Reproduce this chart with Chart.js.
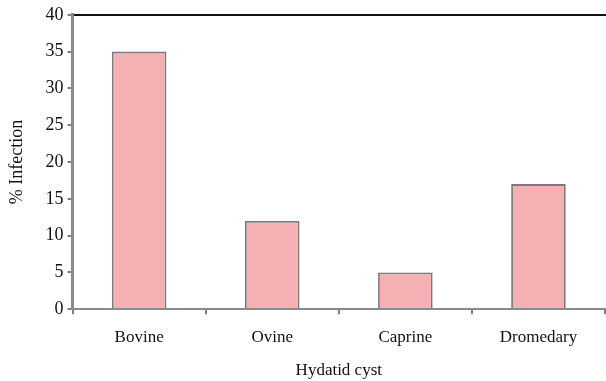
<!DOCTYPE html>
<html>
<head>
<meta charset="utf-8">
<script src="https://cdn.jsdelivr.net/npm/chart.js@4/dist/chart.umd.min.js"></script>
<style>
  html, body { margin: 0; padding: 0; background: #fff; }
  #wrap { width: 606px; height: 381px; position: relative; }
</style>
</head>
<body>
<div id="wrap"><canvas id="c"></canvas></div>
<script>
'use strict';

// ── DATA ──────────────────────────────────────────────
const categories = ['Bovine', 'Ovine', 'Caprine', 'Dromedary'];
const infection  = [35, 12, 5, 17];   // % Infection
const Y_MIN = 0, Y_MAX = 40, Y_STEP = 5;

const SERIF = '"Liberation Serif", "DejaVu Serif", serif';

new Chart(document.getElementById('c'), {
  type: 'bar',
  data: {
    labels: categories,
    datasets: [{
      label: 'Hydatid cyst',
      data: infection,
      backgroundColor: '#f4b0b3',
      borderColor: '#7a7a7a',
      borderWidth: 1.8,
      categoryPercentage: 1.0,
      barPercentage: 0.41,
    }],
  },
  options: {
    responsive: true,
    maintainAspectRatio: false,
    animation: false,
    layout: { padding: { top: 2, right: 1, left: 2, bottom: 0 } },
    plugins: { legend: { display: false }, tooltip: { enabled: false } },
    scales: {
      x: {
        grid: { offset: true, drawOnChartArea: false, tickLength: 5, color: '#808080', lineWidth: 2 },
        border: { color: '#8a8a8a', width: 2 },
        ticks: { color: '#111', font: { family: SERIF, size: 17 }, padding: 13 },
        title: { display: true, text: 'Hydatid cyst', color: '#111', font: { family: SERIF, size: 17 }, padding: { top: 0, bottom: 0 } },
      },
      xTop: {
        position: 'top',
        type: 'category',
        labels: categories,
        grid: { display: false },
        border: { color: '#111', width: 2 },
        ticks: { display: false },
      },
      y: {
        min: Y_MIN, max: Y_MAX,
        ticks: { stepSize: Y_STEP, color: '#111', font: { family: SERIF, size: 18 }, padding: 4 },
        grid: { drawOnChartArea: false, tickLength: 5, color: '#808080', lineWidth: 2 },
        border: { color: '#8a8a8a', width: 3 },
        title: { display: true, text: '% Infection', color: '#111', font: { family: SERIF, size: 18 }, padding: { top: 4, bottom: 14 } },
      },
    },
  },
});
</script>
</body>
</html>
